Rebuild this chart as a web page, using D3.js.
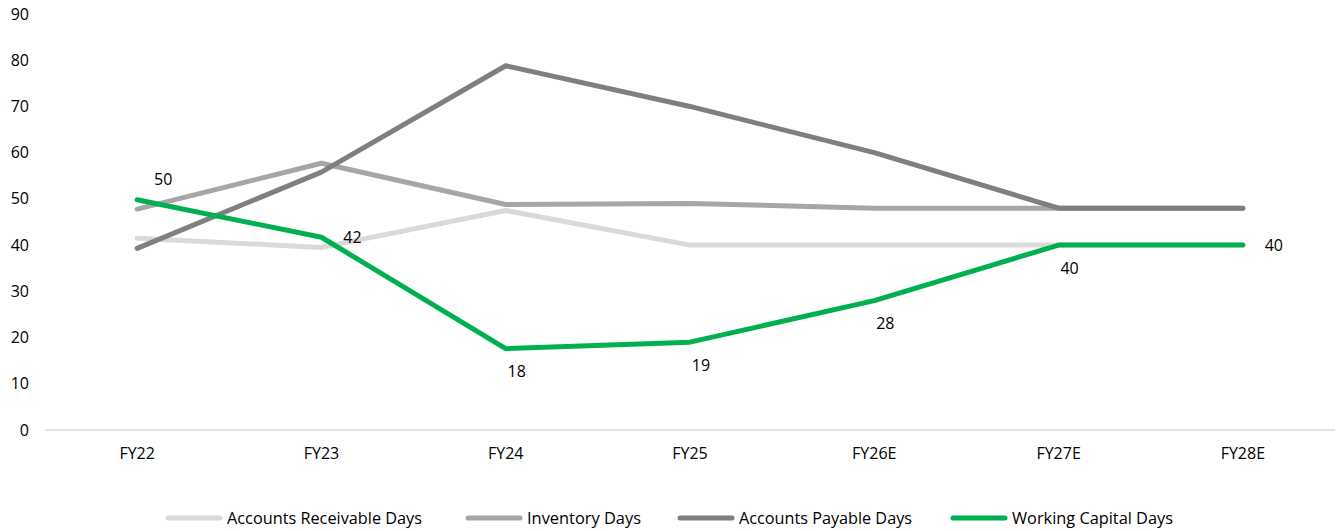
<!DOCTYPE html>
<html><head><meta charset="utf-8">
<script src="https://cdn.jsdelivr.net/npm/d3@7"></script>
<style>body{margin:0;background:#fff}svg{display:block}text{font-family:"Open Sans",sans-serif;fill:#000}</style>
</head><body><svg id="c" width="1340" height="531"></svg>
<script>
const categories = ["FY22","FY23","FY24","FY25","FY26E","FY27E","FY28E"];
const arDays = [41.5,39.5,47.5,40,40,40,40];
const invDays = [47.8,57.7,48.8,49,48,48,48];
const apDays = [39.3,55.8,78.8,70,60,48,48];
const wcDays = [49.8,41.7,17.6,19,28,40,40];
const wcLabels = ["50","42","18","19","28","40","40"];
const wcLabelPos = ["above","right","below","below","below","below","right"];
const yTicks = [0,10,20,30,40,50,60,70,80,90];
const seriesNames = ["Accounts Receivable Days","Inventory Days","Accounts Payable Days","Working Capital Days"];
const seriesColors = ["#d9d9d9","#a6a6a6","#7f7f7f","#00b050"];
const seriesValues = [arDays, invDays, apDays, wcDays];

const svg = d3.select("#c");
const x = d3.scaleBand().domain(categories).range([45,1335]);
const y = d3.scaleLinear().domain([0,90]).range([430,14]);

svg.append("g").selectAll("text").data(yTicks).join("text")
  .attr("x",29).attr("y",d=>y(d)).attr("dy","0.35em").attr("text-anchor","end")
  .style("font-size","16px").text(d=>d);
svg.append("line").attr("x1",45).attr("x2",1335).attr("y1",y(0)).attr("y2",y(0))
  .attr("stroke","#d9d9d9").attr("stroke-width",1.3);
svg.append("g").selectAll("text").data(categories).join("text")
  .attr("x",d=>x(d)+x.bandwidth()/2).attr("y",459).attr("text-anchor","middle")
  .style("font-size","16px").text(d=>d);

const line = d3.line().x((d,i)=>x(categories[i])+x.bandwidth()/2).y(d=>y(d));
seriesValues.forEach((vals,k)=>{
  svg.append("path").attr("d",line(vals)).attr("fill","none")
    .attr("stroke",seriesColors[k]).attr("stroke-width",5)
    .attr("stroke-linecap","round").attr("stroke-linejoin","round");
});

const off = {above:[26,-20], right:[31,0], below:[11,23]};
svg.append("g").selectAll("text").data(wcDays).join("text")
  .attr("x",(d,i)=>x(categories[i])+x.bandwidth()/2+off[wcLabelPos[i]][0])
  .attr("y",(d,i)=>y(d)+off[wcLabelPos[i]][1]).attr("dy","0.35em")
  .attr("text-anchor","middle").style("font-size","16px")
  .text((d,i)=>wcLabels[i]);

const legX = [165,465,677,950];
const legW = [195,114,173,161];
const lg = svg.append("g");
seriesNames.forEach((n,k)=>{
  lg.append("line").attr("x1",legX[k]+3).attr("x2",legX[k]+55).attr("y1",518).attr("y2",518)
    .attr("stroke",seriesColors[k]).attr("stroke-width",5).attr("stroke-linecap","round");
  lg.append("text").attr("x",legX[k]+62).attr("y",518).attr("dy","0.35em")
    .attr("textLength",legW[k]).attr("lengthAdjust","spacingAndGlyphs")
    .style("font-size","16px").text(n);
});
</script></body></html>
